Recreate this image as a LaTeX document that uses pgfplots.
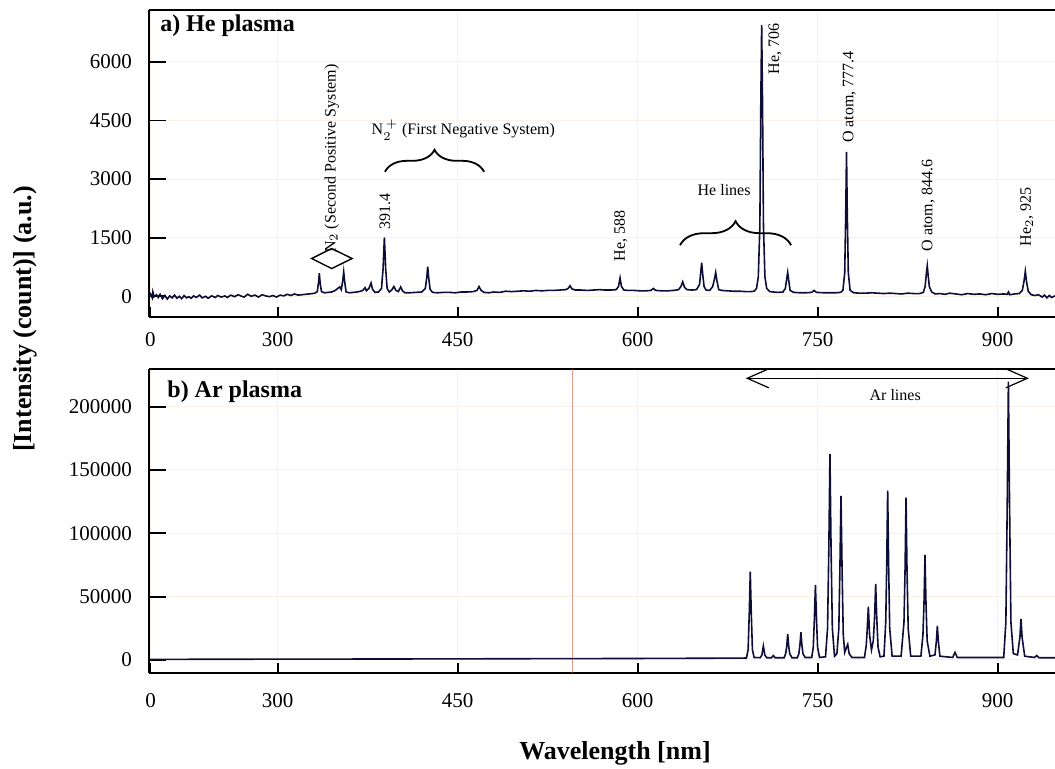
\documentclass[border=0pt]{standalone}
\usepackage{fontspec}
\setmainfont{Liberation Serif}
\usepackage{pgfplots}
\pgfplotsset{compat=1.18}
\usetikzlibrary{decorations.pathreplacing,arrows.meta}
\definecolor{spec}{rgb}{0.05,0.05,0.22}
\definecolor{gridc}{rgb}{0.98,0.95,0.89}
\definecolor{artef}{rgb}{0.88,0.35,0.25}
\pgfplotsset{
  panel/.style={
    scale only axis, width=453pt,
    xmin=192.75, xmax=947.75,
    xtick={194,300,450,600,750,900},
    xticklabels={0,300,450,600,750,900},
    axis x line*=box, axis y line*=left,
    axis line style={-, line width=0.9pt},
    tick style={black, line width=0.9pt},
    major tick length=5pt,
    ytick style={/pgfplots/major tick length=8.5pt},
    xtick pos=bottom, ytick pos=left,
    grid=major, major grid style={line width=0.5pt, draw=gridc},
    ticklabel style={font=\fontsize{10.5}{12}\selectfont},
    /pgf/number format/assume math mode=true,
    scaled y ticks=false, scaled x ticks=false,
    yticklabel style={xshift=-5pt},
    clip=true,
  },
}
\tikzset{
  ann/.style={font=\fontsize{8}{9.6}\selectfont, inner sep=0pt},
  rann/.style={ann, rotate=90, anchor=west},
}
\begin{document}
\begin{tikzpicture}
% ---------------- a) He plasma ----------------
\begin{axis}[panel, name=top, height=153.5pt,
  ymin=-530, ymax=7330,
  ytick={0,1500,3000,4500,6000},
  yticklabels={0,1500,3000,4500,6000},
  xticklabel style={yshift=-4pt},
]
\addplot[spec, line width=0.8pt] coordinates {
(192.75,-20) (194,60) (195.5,-40) (196,110) (197,-10) (199,40) (200.5,-30) (202,50) (204,-60) (206,20) (208,-70) (210,10) (212,-40) (214,30) (216,-50) (218,0) (220,-60) (222,20) (224,-40) (226,-10) (228,-50) (230,10) (232,-30) (235,30) (237,-40) (240,0) (242,-50) (245,10) (248,-30) (250,20) (253,-20) (256,10) (258,-30) (261,30) (264,-10) (267,40) (270,0) (272,-20) (275,50) (278,0) (281,30) (284,-20) (287,40) (290,10) (293,-10) (296,20) (299,-20) (302,30) (305,10) (308,50) (311,20) (314,60) (317,30) (320,40) (323,50) (326,60) (329,70)
(331,80) (333,120) (334,350) (334.7,590) (335.4,330) (336.5,120) (339,90) (342,100) (345,110) (348,150) (350,200) (351.7,240) (353,170) (354.2,400) (355,623) (355.8,380) (357,110) (360,90) (363,100) (366,110) (369,130) (371,150) (372.8,220) (374,140) (376,200) (377.8,340) (379,180) (381,100) (384,110) (386.5,200) (387.8,700) (388.9,1505) (390,700) (391.2,200) (393,110) (395,160) (396.8,250) (398.5,150) (400.5,120) (402.5,240) (404,140) (406,90) (410,90) (415,100) (420,110) (423,200) (424.3,500) (425,760) (425.8,480) (427,180) (429,100) (433,90) (438,100) (443,100) (448,90) (453,110) (458,110) (463,120) (466,150) (467.8,250) (469.5,150) (472,100) (476,90) (480,110) (485,100) (490,130) (495,120) (500,130) (505,140) (510,130) (515,150) (520,140) (525,150) (530,150) (535,160) (540,170) (542,200) (543.6,270) (545.2,190) (548,160) (553,160) (558,150) (563,160) (568,170) (573,160) (578,160) (582,170) (584,250) (585.3,470) (586.5,250) (588.5,160) (592,150) (597,150) (602,140) (607,140) (611,150) (613,200) (615,150) (620,140) (625,140) (630,150) (634,170) (636,250) (637.5,370) (639,230) (641,170) (645,160) (649,170) (651.5,300) (652.5,600) (653.3,860) (654.2,550) (655.3,250) (657,160) (660,150) (662.5,250) (664,450) (665,610) (666,400) (667.5,170) (670,150) (675,140) (680,130) (685,130) (690,120) (694,120) (697,130) (699,200) (700.5,500) (701.8,1800) (702.6,5000) (703.3,6950) (704,5000) (704.8,1800) (706,500) (707.5,200) (710,120) (713,110) (717,100) (721,110) (723,200) (724.2,450) (725,610) (725.8,420) (727,150) (730,100) (735,90) (740,90) (745,100) (747,150) (749,100) (755,90) (760,90) (765,90) (769,100) (771,150) (772.5,600) (773.4,2200) (774,3700) (774.6,2200) (775.5,600) (777,150) (780,90) (785,80) (790,80) (795,90) (800,80) (805,70) (810,80) (815,70) (820,60) (825,80) (830,70) (835,70) (838,100) (839.5,250) (840.6,600) (841.3,780) (842,550) (843,250) (845,110) (848,60) (852,70) (856,50) (860,80) (865,60) (870,40) (875,70) (880,50) (885,60) (890,40) (895,70) (900,50) (905,60) (908,50) (909,110) (910,40) (914,60) (918,70) (920.5,150) (922,400) (923,640) (924,380) (925.5,120) (928,40) (931,20) (934,40) (937,-20) (939,30) (941,-40) (943,20) (945,-30) (947.7,10)
};
\node[anchor=west, inner sep=0pt, font=\bfseries\fontsize{12}{14}\selectfont] at (rel axis cs:0.012,0.948) {a) He plasma};
\node[rann] at (axis cs:345,1100) {N$_2$ (Second Positive System)};
\draw[line width=0.7pt] (axis cs:328.3,967) -- (axis cs:345,1223) -- (axis cs:362,967) -- (axis cs:345,710) -- cycle;
\node[rann] at (axis cs:389.4,1692) {391.4};
\node[ann] at (axis cs:454.7,4256) {N$_2^{\,+}$ (First Negative System)};
\draw[decorate, decoration={brace, amplitude=11pt}, line width=0.9pt] (axis cs:389.4,3187) -- (axis cs:472,3187);
\node[rann] at (axis cs:585.8,880) {He, 588};
\node[ann] at (axis cs:672,2718) {He lines};
\draw[decorate, decoration={brace, amplitude=12pt}, line width=0.9pt] (axis cs:635.3,1308) -- (axis cs:727.8,1308);
\node[rann] at (axis cs:714.4,5667) {He, 706};
\node[rann] at (axis cs:776.4,3915) {O atom, 777.4};
\node[rann] at (axis cs:842.2,1136) {O atom, 844.6};
\node[rann] at (axis cs:924.2,1264) {He$_2$, 925};
\end{axis}
% ---------------- b) Ar plasma ----------------
\begin{axis}[panel, name=bot, at={(0pt,-26.15pt)}, anchor=north west, height=152pt,
  ymin=-10500, ymax=229500,
  ytick={0,50000,100000,150000,200000},
  yticklabels={0,50000,100000,150000,200000},
  xticklabel style={yshift=-6.5pt},
]
\draw[artef, line width=0.5pt, opacity=0.6] (axis cs:546,-10500) -- (axis cs:546,229500);
\addplot[spec, line width=0.8pt] coordinates {
(192.75,500) (400,800) (600,1200) (688,1500) (690.6,1600) (692,8000) (693,38000) (693.8,69700) (694.6,38000) (695.6,8000) (697,2000) (702,1800) (703.5,4000) (704.7,11000) (705.9,4000) (707.5,1800) (711.5,1800) (713,3500) (714.5,1800) (722,1800) (723.3,5000) (724.2,11000) (725,20500) (725.8,11000) (726.7,5000) (728.5,1800) (733,1800) (734.3,5000) (735.2,12000) (736,21900) (736.8,12000) (737.7,5000) (739.5,2000) (745,2000) (746.3,10000) (747.2,32000) (748.1,59200) (749,32000) (749.9,10000) (751.5,2000) (756.5,2500) (758.2,25000) (759.3,90000) (760.2,162600) (761.1,90000) (762.2,25000) (764,3000) (766,5000) (767.6,25000) (768.5,72000) (769.4,129500) (770.3,72000) (771.3,20000) (772.5,6000) (774,10000) (775,12400) (776.2,5000) (778.5,2000) (789,2000) (790.5,12000) (791.3,25000) (792.2,42100) (793.2,20000) (794.8,8000) (796.3,15000) (797.4,34000) (798.3,60000) (799.2,33000) (800.3,10000) (802,2500) (805.2,3000) (806.7,30000) (807.5,75000) (808.3,133700) (809.1,75000) (810,25000) (812,3000) (819.5,3000) (821.9,30000) (822.8,72000) (823.6,128100) (824.4,72000) (825.4,25000) (827.5,3000) (836,3000) (837.7,20000) (838.6,46000) (839.4,82900) (840.2,46000) (841.2,15000) (843.5,3000) (847.7,4000) (848.9,15000) (849.7,26800) (850.5,15000) (851.8,3000) (862.5,2000) (864.4,6000) (866.3,2000) (905,2000) (906.8,30000) (907.9,120000) (908.9,219700) (909.9,120000) (911,30000) (913,5000) (916.5,4000) (918.5,18000) (919.4,32400) (920.3,18000) (922.5,3000) (930.5,2000) (932.5,3500) (934.5,1800) (947.7,1800)
};
\node[anchor=west, inner sep=0pt, font=\bfseries\fontsize{12}{14}\selectfont] at (rel axis cs:0.0199,0.926) {b) Ar plasma};
\draw[{Straight Barb[length=10.8pt,width=9.5pt]}-{Straight Barb[length=10.8pt,width=9.5pt]}, line width=0.6pt] (axis cs:690,222400) -- (axis cs:926,222400);
\node[ann] at (axis cs:814.6,209200) {Ar lines};
\end{axis}
\node[rotate=90, font=\bfseries\fontsize{13}{15}\selectfont] at (-62pt,-1pt) {[Intensity (count)] (a.u.)};
\node[font=\bfseries\fontsize{13}{15}\selectfont] at (233pt,-218pt) {Wavelength [nm]};
\pgfresetboundingbox
\path[use as bounding box] (-74.5pt,-226pt) rectangle (453pt,158.5pt);
\end{tikzpicture}
\end{document}
